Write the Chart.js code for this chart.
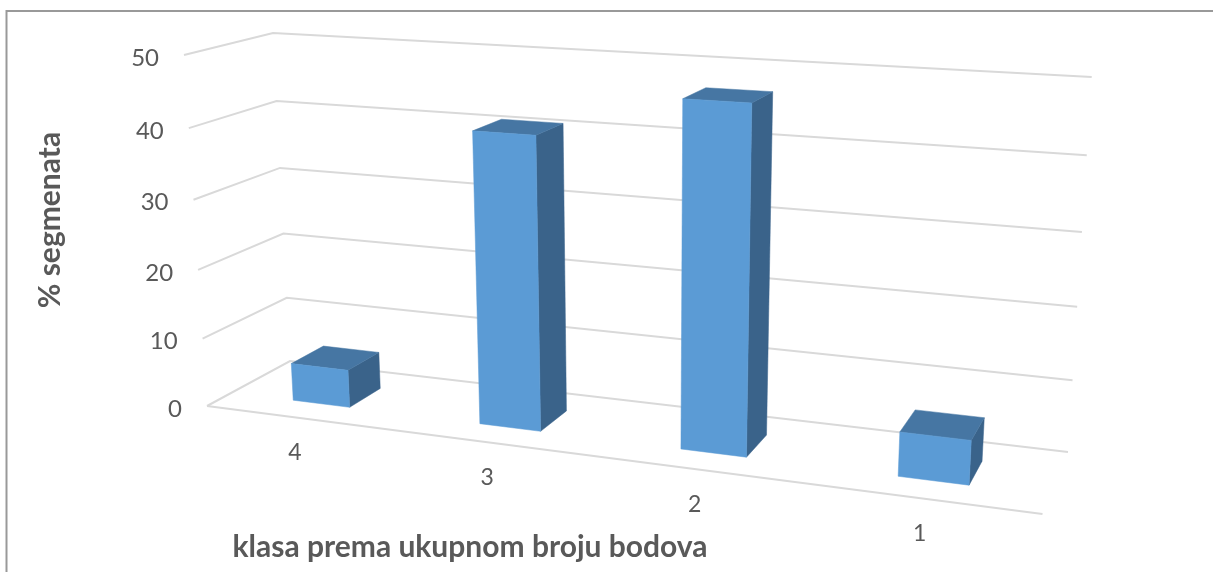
<!DOCTYPE html>
<html><head><meta charset="utf-8">
<style>html,body{margin:0;padding:0;background:#fff}#w{position:relative;width:1213px;height:572px}</style>
<script src="https://cdn.jsdelivr.net/npm/chart.js@4"></script>
</head><body><div id="w"><canvas id="c"></canvas></div>
<script>
const categories = ['4','3','2','1'];
const seriesValues = [5.5, 41, 47, 6];
const yMax = 50, yStep = 10;
const xTitle = 'klasa prema ukupnom broju bodova';
const yTitle = '% segmenata';

// projected corners of the chart's 3-D box: [bottom-left, bottom-right, top-right, top-left]
const frontQuad = [[207,406],[1042.5,514],[1067,106],[184,55]];
const backQuad  = [[290,361],[1068,452],[1091.7,77],[273,33]];
const barDepth = [0.3, 0.7];

function homography(q){
  const [[x0,y0],[x1,y1],[x2,y2],[x3,y3]] = q;
  const dx1=x1-x2, dx2=x3-x2, sx=x0-x1+x2-x3, dy1=y1-y2, dy2=y3-y2, sy=y0-y1+y2-y3;
  const d=dx1*dy2-dx2*dy1, g=(sx*dy2-dx2*sy)/d, h=(dx1*sy-sx*dy1)/d;
  const a=x1-x0+g*x1, b=x3-x0+h*x3, e=y1-y0+g*y1, f=y3-y0+h*y3;
  return (u,v)=>{const k=g*u+h*v+1;return [(a*u+b*v+x0)/k,(e*u+f*v+y0)/k];};
}
const hF=homography(frontQuad), hB=homography(backQuad);
function P(u,v,w){const a=hF(u,v),b=hB(u,v);return [a[0]+(b[0]-a[0])*w,a[1]+(b[1]-a[1])*w];}
function poly(ctx,pts,fill){ctx.beginPath();pts.forEach((p,i)=>i?ctx.lineTo(p[0],p[1]):ctx.moveTo(p[0],p[1]));ctx.closePath();ctx.fillStyle=fill;ctx.fill();ctx.strokeStyle=fill;ctx.lineWidth=0.5;ctx.stroke();}
function seg(ctx,pts){ctx.beginPath();pts.forEach((p,i)=>i?ctx.lineTo(p[0],p[1]):ctx.moveTo(p[0],p[1]));ctx.stroke();}

const scene3d = {
  id:'scene3d',
  beforeDatasetsDraw(chart){
    const ctx=chart.ctx, ys=chart.scales.y, xs=chart.scales.x, A=chart.chartArea;
    ctx.save();
    // frame
    ctx.strokeStyle='#999999';ctx.lineWidth=2;
    seg(ctx,[[6.5,572],[6.5,11],[1213,11]]);
    // gridlines
    ctx.strokeStyle='#d9d9d9';ctx.lineWidth=2;ctx.lineJoin='miter';
    ys.ticks.forEach(t=>{
      const v=(A.bottom-ys.getPixelForValue(t.value))/A.height;
      seg(ctx,[P(0,v,0),P(0,v,1),P(1,v,1)]);
    });
    seg(ctx,[P(0,0,0),P(1,0,0)]);
    // value labels
    ctx.fillStyle='#595959';ctx.font='24px Lato';ctx.textAlign='right';ctx.textBaseline='middle';
    ys.ticks.forEach(t=>{
      const v=(A.bottom-ys.getPixelForValue(t.value))/A.height, p=P(0,v,0);
      ctx.fillText(t.label,p[0]-25,p[1]+3);
    });
    // category labels
    ctx.font='23px Lato';ctx.textAlign='center';
    xs.ticks.forEach((t,i)=>{
      const u=(xs.getPixelForTick(i)-A.left)/A.width, p=P(u,0,0);
      ctx.fillText(t.label,p[0]-3,p[1]+35);
    });
    // titles
    ctx.font='bold 30px Lato';ctx.textAlign='center';
    ctx.fillText(xTitle,470,547);
    ctx.save();ctx.translate(50,220);ctx.rotate(-Math.PI/2);ctx.fillText(yTitle,0,0);ctx.restore();
    ctx.restore();
  },
  beforeDatasetDraw(chart,args){
    const ctx=chart.ctx, A=chart.chartArea, meta=args.meta, ds=chart.data.datasets[args.index];
    meta.data.forEach(b=>{
      const p=b.getProps(['x','y','base','width'],true);
      const u0=(p.x-p.width/2-A.left)/A.width, u1=(p.x+p.width/2-A.left)/A.width;
      const v0=(A.bottom-p.base)/A.height, v1=(A.bottom-p.y)/A.height;
      const [w0,w1]=barDepth;
      poly(ctx,[P(u1,v0,w0),P(u1,v0,w1),P(u1,v1,w1),P(u1,v1,w0)],ds.sideColor);
      poly(ctx,[P(u0,v1,w0),P(u1,v1,w0),P(u1,v1,w1),P(u0,v1,w1)],ds.topColor);
      poly(ctx,[P(u0,v0,w0),P(u1,v0,w0),P(u1,v1,w0),P(u0,v1,w0)],ds.backgroundColor);
    });
    return false;
  }
};

new Chart(document.getElementById('c'),{
  type:'bar',
  data:{labels:categories,datasets:[{data:seriesValues,backgroundColor:'#5B9BD5',topColor:'#4676A3',sideColor:'#3A638A',barPercentage:0.31,categoryPercentage:1}]},
  options:{
    responsive:true,maintainAspectRatio:false,animation:false,
    layout:{padding:0},
    plugins:{legend:{display:false},tooltip:{enabled:false}},
    scales:{
      x:{type:'category',display:false},
      y:{type:'linear',display:false,min:0,max:yMax,ticks:{stepSize:yStep}}
    }
  },
  plugins:[scene3d]
});
</script></body></html>
